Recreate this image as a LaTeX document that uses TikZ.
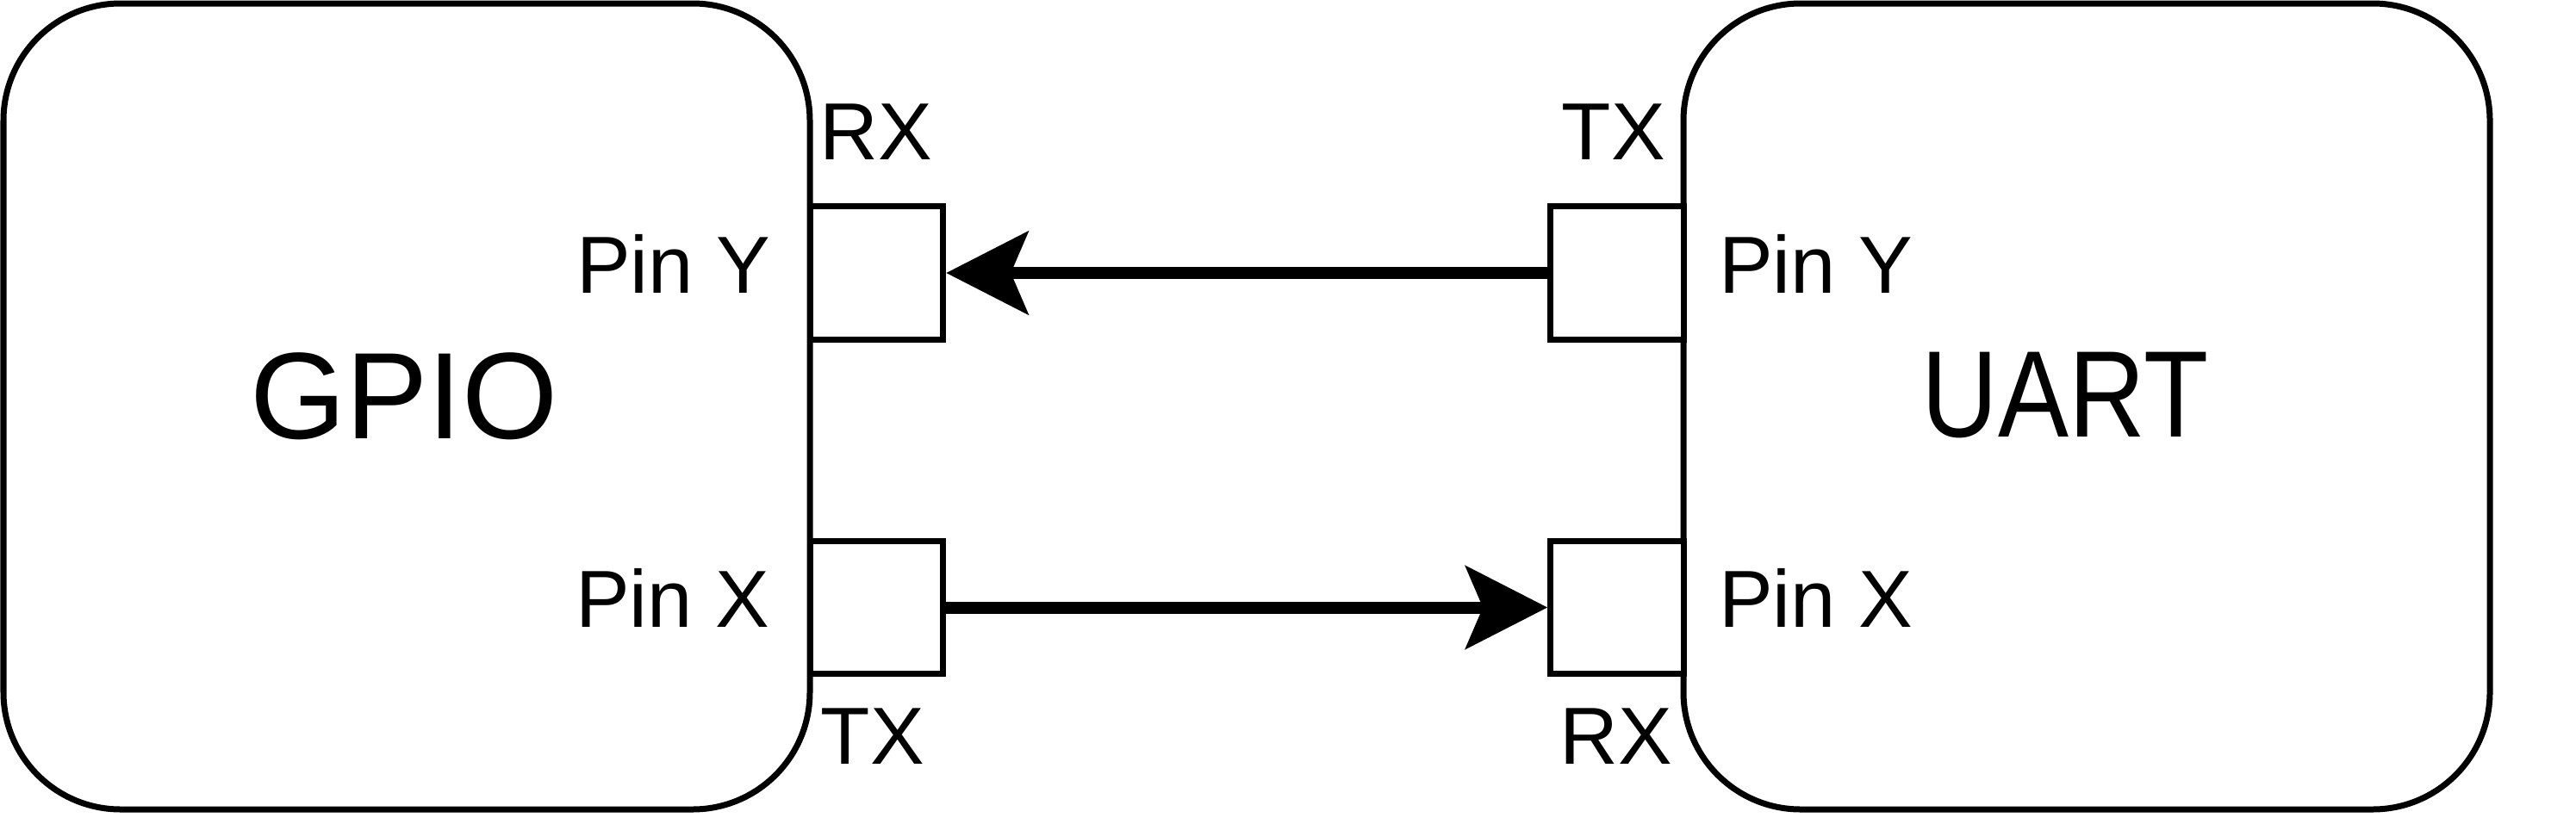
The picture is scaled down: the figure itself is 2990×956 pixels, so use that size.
\documentclass[tikz,border=0pt]{standalone}
\usepackage{fontspec}
\setmainfont{Liberation Sans}
\usetikzlibrary{arrows.meta}
\begin{document}
\begin{tikzpicture}[x=1pt,y=-1pt,
  bigbox/.style={draw=black,line width=7pt,rounded corners=136pt,minimum width=936pt,minimum height=936pt,inner sep=0pt,fill=white},
  pinbox/.style={draw=black,line width=7pt,minimum size=154.5pt,inner sep=0pt,fill=white},
  pinlabel/.style={inner sep=0pt,font=\fontsize{94}{110}\selectfont},
  titlelabel/.style={inner sep=0pt,font=\fontsize{143}{170}\selectfont},
  sig/.style={line width=14pt,-{Stealth[length=95pt,width=96pt,inset=20pt]}}]
\useasboundingbox (0,0) rectangle (2990,956);
\node[bigbox] (gpio) at (472,472) {};
\node[bigbox] (uart) at (2422,472) {};
\node[pinbox] (ly) at (1017.5,317) {};
\node[pinbox] (lx) at (1017.5,705.5) {};
\node[pinbox] (ry) at (1877,317) {};
\node[pinbox] (rx) at (1877,705.5) {};
\node[titlelabel,anchor=base] (gpiot) at (469,509) {GPIO};
\node[titlelabel,anchor=base] (uartt) at (2397,507) {\scalebox{0.86}[1]{UART}};
\node[pinlabel,anchor=base west] (lyt) at (669,340) {Pin Y};
\node[pinlabel,anchor=base west] (lxt) at (668,728) {Pin X};
\node[pinlabel,anchor=base west] (ryt) at (1995,340) {Pin Y};
\node[pinlabel,anchor=base west] (rxt) at (1995,728) {Pin X};
\node[pinlabel,anchor=base] (rx1) at (1017,185) {RX};
\node[pinlabel,anchor=base] (tx1) at (1873,185) {TX};
\node[pinlabel,anchor=base] (tx2) at (1013,887) {TX};
\node[pinlabel,anchor=base] (rx2) at (1876,887) {RX};
\draw[sig] (ry.west) -- (ly.east);
\draw[sig] (lx.east) -- (rx.west);
\end{tikzpicture}
\end{document}
